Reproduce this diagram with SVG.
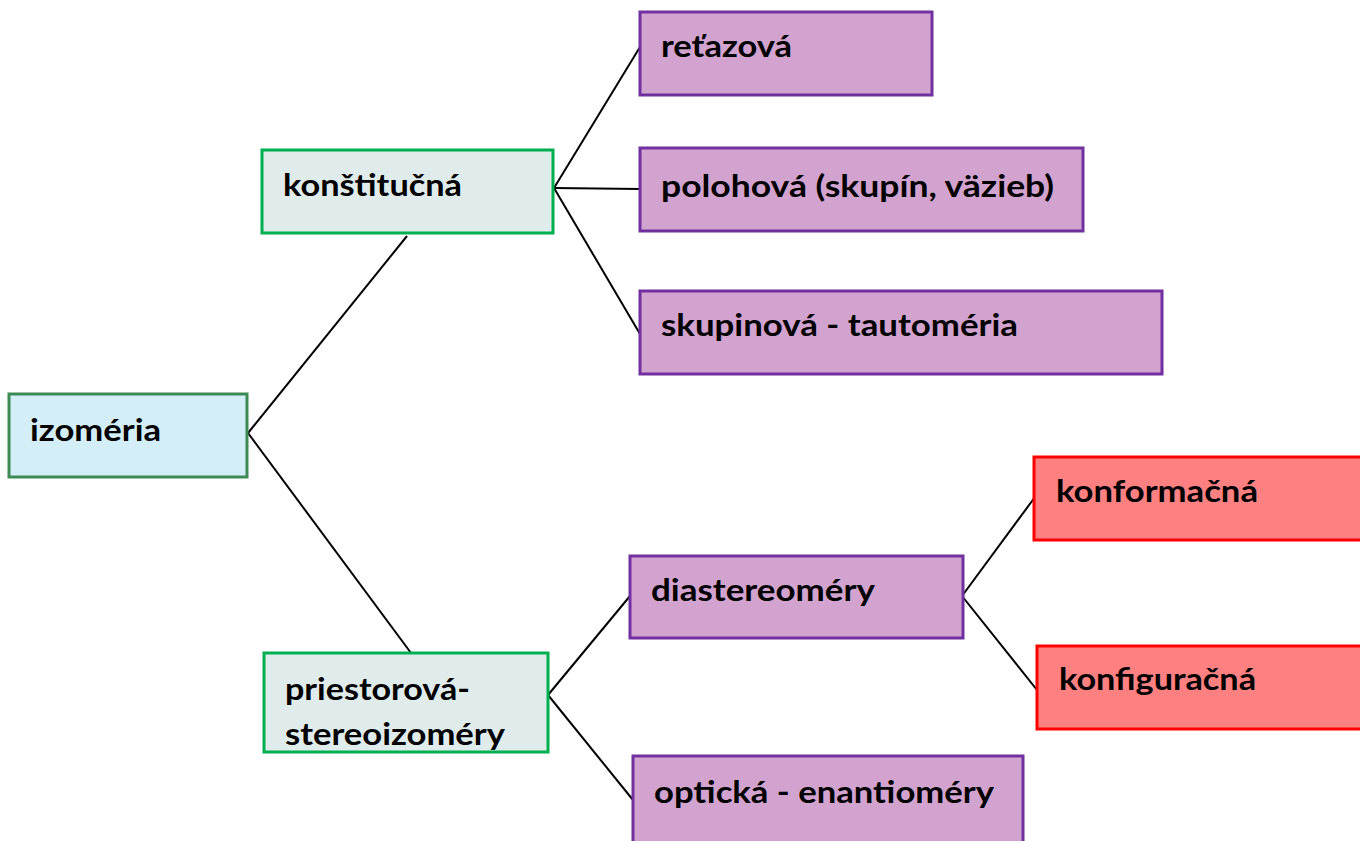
<svg xmlns="http://www.w3.org/2000/svg" width="1360" height="841" viewBox="0 0 1360 841">
<style>
.b{stroke-width:3}
.root{fill:#d4eef8;stroke:#3e8a55}
.grn{fill:#e0ecec;stroke:#00b050}
.pur{fill:#d2a3cf;stroke:#7030a0}
.red{fill:#ff8080;stroke:#ff0000}
text{font-family:Lato,"Open Sans","Liberation Sans",sans-serif;font-weight:bold;font-size:30px;fill:#000}
.c line{stroke:#000;stroke-width:2}
</style>
<rect width="1360" height="841" fill="#fff"/>
<g class="c" id="connectors">
<line x1="248" y1="433" x2="407" y2="236"/>
<line x1="248" y1="433" x2="411" y2="653"/>
<line x1="554" y1="188" x2="640" y2="47"/>
<line x1="554" y1="188" x2="640" y2="189"/>
<line x1="554" y1="188" x2="640" y2="334"/>
<line x1="548" y1="695" x2="630" y2="596"/>
<line x1="548" y1="695" x2="633" y2="800"/>
<line x1="962" y1="596" x2="1035" y2="497"/>
<line x1="962" y1="596" x2="1037" y2="690"/>
</g>
<g id="izomeria"><rect class="b root" x="9" y="394" width="238" height="83"/><text x="30" y="441" textLength="131" lengthAdjust="spacingAndGlyphs">izoméria</text></g>
<g id="konstitucna"><rect class="b grn" x="262" y="150" width="291" height="83"/><text x="283" y="196" textLength="179" lengthAdjust="spacingAndGlyphs">konštitučná</text></g>
<g id="retazova"><rect class="b pur" x="640" y="12" width="292" height="83"/><text x="661" y="57" textLength="131" lengthAdjust="spacingAndGlyphs">reťazová</text></g>
<g id="polohova"><rect class="b pur" x="640" y="148" width="443" height="83"/><text x="661" y="197" textLength="393" lengthAdjust="spacingAndGlyphs">polohová (skupín, väzieb)</text></g>
<g id="skupinova"><rect class="b pur" x="640" y="291" width="522" height="83"/><text x="661" y="336" textLength="357" lengthAdjust="spacingAndGlyphs">skupinová - tautoméria</text></g>
<g id="priestorova"><rect class="b grn" x="264" y="653" width="284" height="99"/><text x="285" y="700" textLength="185" lengthAdjust="spacingAndGlyphs">priestorová-</text><text x="285" y="745" textLength="220" lengthAdjust="spacingAndGlyphs">stereoizoméry</text></g>
<g id="diastereomery"><rect class="b pur" x="630" y="556" width="333" height="82"/><text x="651" y="601" textLength="224" lengthAdjust="spacingAndGlyphs">diastereoméry</text></g>
<g id="opticka"><rect class="b pur" x="633" y="756" width="390" height="95"/><text x="654" y="803" textLength="340" lengthAdjust="spacingAndGlyphs">optická - enantioméry</text></g>
<g id="konformacna"><rect class="b red" x="1034" y="457" width="336" height="83"/><text x="1056" y="502" textLength="202" lengthAdjust="spacingAndGlyphs">konformačná</text></g>
<g id="konfiguracna"><rect class="b red" x="1037" y="646" width="333" height="83"/><text x="1059" y="690" textLength="197" lengthAdjust="spacingAndGlyphs">konfiguračná</text></g>
</svg>
